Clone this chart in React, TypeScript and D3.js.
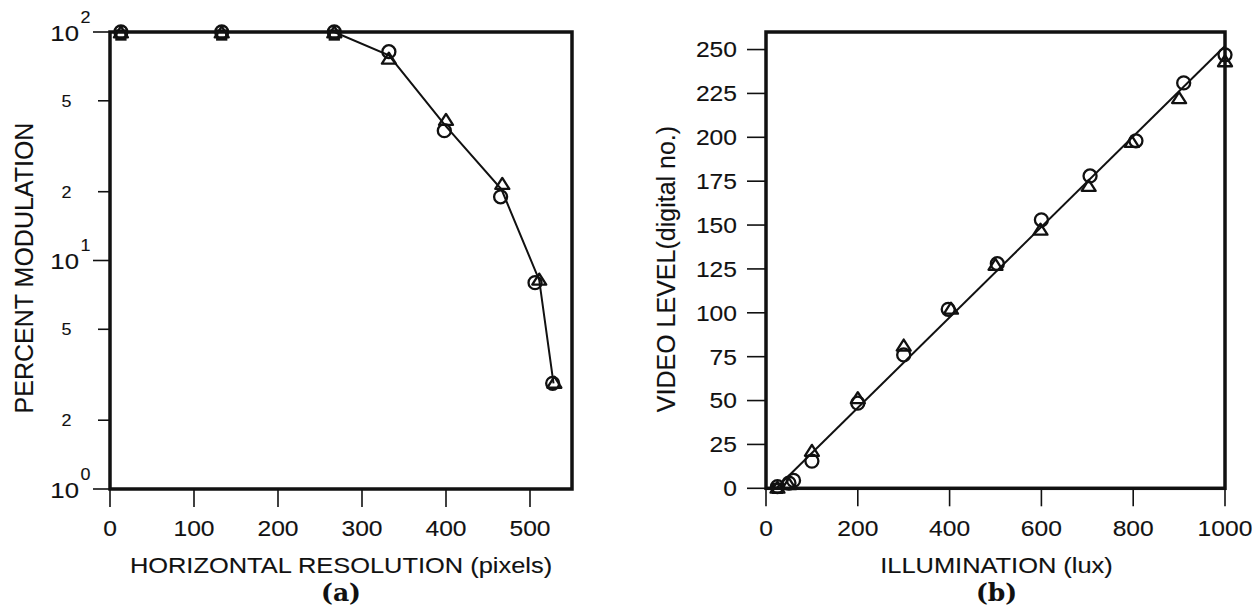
import React from "react";
import * as d3 from "d3";

// ---- Panel (a): modulation vs. horizontal resolution ----
const resCircleX = [13, 133, 267, 332, 398, 465, 506, 527];
const resCircleY = [100, 100, 100, 82, 37, 19, 8.0, 2.9];
const resTriangleX = [13, 133, 267, 332, 400, 467, 511, 529];
const resTriangleY = [99, 99, 99, 76, 41, 21.5, 8.2, 2.9];
const resSquareX = [13, 133, 267];
const resSquareY = [97, 97, 97];
const resLineX = [13, 133, 267, 332, 399, 466, 511, 528];
const resLineY = [100, 100, 100, 79, 39, 20.5, 8.2, 2.9];
const resXTicks = [0, 100, 200, 300, 400, 500];
const resMajorTicks = [1, 10, 100];
const resMajorExp = ["0", "1", "2"];
const resMinorTicks = [2, 5, 20, 50];
const resMinorLabels = ["2", "5", "2", "5"];

// ---- Panel (b): video level vs. illumination ----
const illumCircleX = [25, 50, 60, 100, 200, 300, 397, 504, 600, 706, 806, 910, 1000];
const illumCircleY = [1, 3, 4.5, 15.5, 48.5, 76, 102, 128, 153, 178, 198, 231, 247];
const illumTriangleX = [25, 50, 100, 200, 300, 403, 500, 598, 703, 797, 900, 1000];
const illumTriangleY = [0, 2, 21, 51, 81, 102, 127, 147, 172, 197, 222, 243];
const illumSquareX = [25];
const illumSquareY = [0];
const fitX = [22, 1000];
const fitY = [0, 252];
const illumXTicks = [0, 200, 400, 600, 800, 1000];
const illumYTicks = [0, 25, 50, 75, 100, 125, 150, 175, 200, 225, 250];

const INK = "#111";
const SANS = "'Liberation Sans', Arial, Helvetica, sans-serif";
const SERIF = "'DejaVu Serif', 'Liberation Serif', serif";
const SX = 1.12;

function T({ x, y, size, anchor = "middle", sx = SX, family = SANS, weight = "normal", children }: any) {
  return (
    <text
      transform={`translate(${x},${y}) scale(${sx},1)`}
      fontSize={size}
      fontFamily={family}
      fontWeight={weight}
      textAnchor={anchor}
      fill={INK}
      stroke={INK}
      strokeWidth={0.12}
    >
      {children}
    </text>
  );
}

function Circle({ cx, cy }: any) {
  return <circle cx={cx} cy={cy} r={6.5} fill="none" stroke={INK} strokeWidth={2.3} />;
}
function Tri({ cx, cy }: any) {
  const w = 7, h = 11;
  return (
    <path
      d={`M${cx},${cy - h * 0.6}L${cx + w},${cy + h * 0.4}L${cx - w},${cy + h * 0.4}Z`}
      fill="none"
      stroke={INK}
      strokeWidth={2.3}
      strokeLinejoin="round"
    />
  );
}
function Sq({ cx, cy }: any) {
  const s = 9;
  return <rect x={cx - s / 2} y={cy - s / 2} width={s} height={s} fill="none" stroke={INK} strokeWidth={2.3} />;
}

function PanelA() {
  const x = d3.scaleLinear().domain([0, 550]).range([110, 572]);
  const y = d3.scaleLog().domain([1, 100]).range([489, 32]);
  const line = d3
    .line<number>()
    .x((_, i) => x(resLineX[i]))
    .y((d) => y(d));
  const [x0, x1] = x.range();
  const [yb, yt] = y.range();
  return (
    <g>
      <path d={line(resLineY) || ""} fill="none" stroke={INK} strokeWidth={2} />
      {resSquareX.map((v, i) => (
        <Sq key={"s" + i} cx={x(v)} cy={y(resSquareY[i])} />
      ))}
      {resTriangleX.map((v, i) => (
        <Tri key={"t" + i} cx={x(v)} cy={y(resTriangleY[i])} />
      ))}
      {resCircleX.map((v, i) => (
        <Circle key={"c" + i} cx={x(v)} cy={y(resCircleY[i])} />
      ))}
      <rect x={x0} y={yt} width={x1 - x0} height={yb - yt} fill="none" stroke={INK} strokeWidth={3.5} />
      {resXTicks.map((t) => (
        <g key={"xt" + t}>
          <line x1={x(t)} x2={x(t)} y1={yb} y2={yb + 18} stroke={INK} strokeWidth={1.6} />
          <T x={x(t)} y={536} size={22}>
            {t}
          </T>
        </g>
      ))}
      {resMajorTicks.map((t, i) => (
        <g key={"ym" + t}>
          <line x1={x0 - 17} x2={x0} y1={y(t)} y2={y(t)} stroke={INK} strokeWidth={1.6} />
          <T x={79} y={y(t) + 8.5} size={23} anchor="end">
            10
          </T>
          <T x={80.5} y={y(t) - 9.5} size={16} anchor="start">
            {resMajorExp[i]}
          </T>
        </g>
      ))}
      {resMinorTicks.map((t, i) => (
        <g key={"yn" + t}>
          <line x1={x0 - 12} x2={x0} y1={y(t)} y2={y(t)} stroke={INK} strokeWidth={1.6} />
          <T x={66.5} y={y(t) + 5.8} size={16}>
            {resMinorLabels[i]}
          </T>
        </g>
      ))}
      <T x={(x0 + x1) / 2} y={573} size={22.3} sx={1.14}>
        HORIZONTAL RESOLUTION (pixels)
      </T>
      <T x={(x0 + x1) / 2} y={601} size={25} sx={1.0} family={SERIF} weight="bold">
        (a)
      </T>
      <text
        transform={`translate(32.5,268) rotate(-90)`}
        fontSize={25}
        fontFamily={SANS}
        textAnchor="middle"
        fill={INK}
        stroke={INK}
        strokeWidth={0.12}
      >
        PERCENT MODULATION
      </text>
    </g>
  );
}

function PanelB() {
  const x = d3.scaleLinear().domain([0, 1000]).range([766, 1225]);
  const y = d3.scaleLinear().domain([0, 260]).range([488.3, 32]);
  const line = d3
    .line<number>()
    .x((_, i) => x(fitX[i]))
    .y((d) => y(d));
  const [x0, x1] = x.range();
  const [yb, yt] = y.range();
  return (
    <g>
      <path d={line(fitY) || ""} fill="none" stroke={INK} strokeWidth={2} />
      {illumSquareX.map((v, i) => (
        <Sq key={"s" + i} cx={x(v)} cy={y(illumSquareY[i])} />
      ))}
      {illumTriangleX.map((v, i) => (
        <Tri key={"t" + i} cx={x(v)} cy={y(illumTriangleY[i])} />
      ))}
      {illumCircleX.map((v, i) => (
        <Circle key={"c" + i} cx={x(v)} cy={y(illumCircleY[i])} />
      ))}
      <rect x={x0} y={yt} width={x1 - x0} height={yb - yt} fill="none" stroke={INK} strokeWidth={3.5} />
      {illumXTicks.map((t) => (
        <g key={"xt" + t}>
          <line x1={x(t)} x2={x(t)} y1={yb} y2={yb + 18} stroke={INK} strokeWidth={1.6} />
          <T x={x(t)} y={536} size={22}>
            {t}
          </T>
        </g>
      ))}
      {illumYTicks.map((t) => (
        <g key={"yt" + t}>
          <line x1={x0 - 19} x2={x0} y1={y(t)} y2={y(t)} stroke={INK} strokeWidth={1.6} />
          <T x={737} y={y(t) + 7.9} size={22} anchor="end">
            {t}
          </T>
        </g>
      ))}
      <T x={(x0 + x1) / 2 + 1} y={573} size={22.3} sx={1.14}>
        ILLUMINATION (lux)
      </T>
      <T x={(x0 + x1) / 2 + 1} y={601} size={25} sx={1.0} family={SERIF} weight="bold">
        (b)
      </T>
      <text
        transform={`translate(675,269) rotate(-90)`}
        fontSize={25}
        fontFamily={SANS}
        textAnchor="middle"
        fill={INK}
        stroke={INK}
        strokeWidth={0.12}
      >
        VIDEO LEVEL(digital no.)
      </text>
    </g>
  );
}

export default function App() {
  return (
    <div style={{ position: "fixed", left: 0, top: 0 }}>
      <svg width={1255} height={613} viewBox="0 0 1255 613" style={{ display: "block", background: "#fff" }}>
        <rect width={1255} height={613} fill="#fff" />
        <PanelA />
        <PanelB />
      </svg>
    </div>
  );
}
